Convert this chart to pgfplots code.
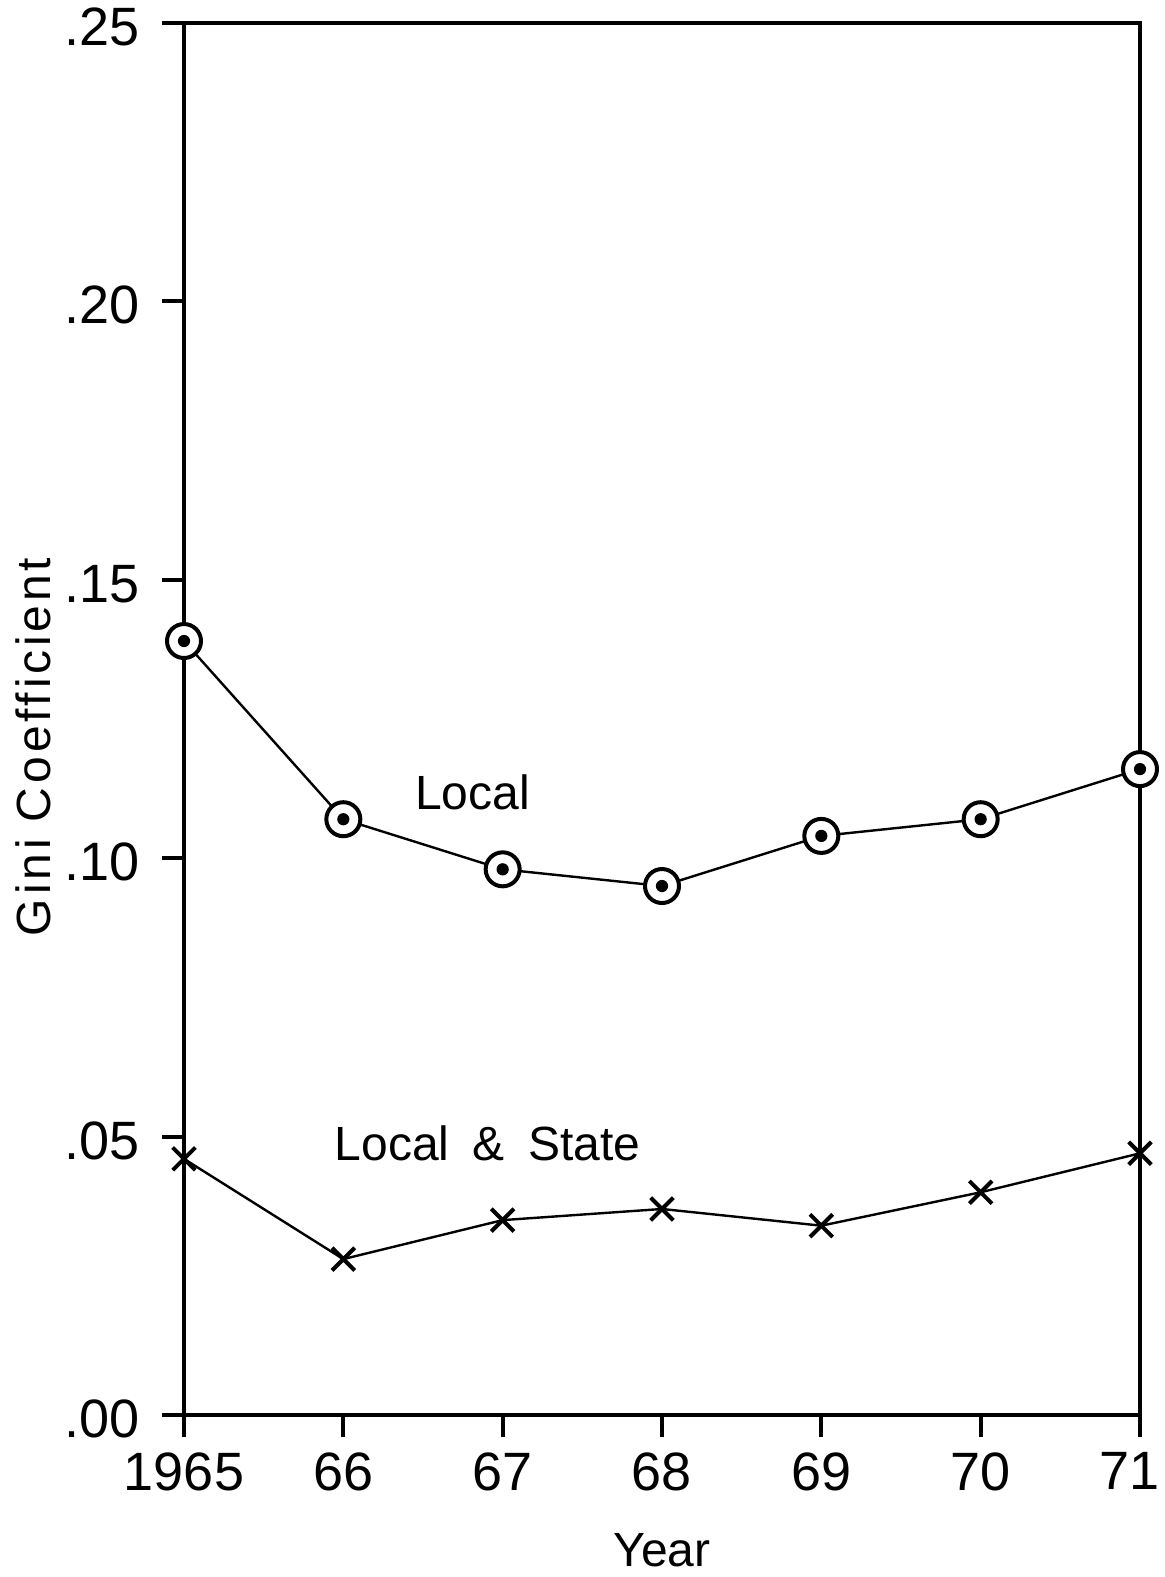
\documentclass[border=0pt]{standalone}
\usepackage{fontspec}
\setmainfont{Liberation Sans}
\usepackage{pgfplots}
\pgfplotsset{compat=1.18}
\pgfdeclareplotmark{odot}{%
  \pgfpathcircle{\pgfpointorigin}{\pgfplotmarksize}%
  \pgfsetfillcolor{white}\pgfusepathqfillstroke
  \pgfpathcircle{\pgfpointorigin}{0.36\pgfplotmarksize}%
  \pgfsetfillcolor{black}\pgfusepathqfill
}
\begin{document}
\begin{tikzpicture}
\useasboundingbox (-92pt,-81pt) rectangle (490pt,707.5pt);
\begin{axis}[
  scale only axis,
  width=478pt, height=696pt,
  at={(0,0)}, anchor=south west,
  xmin=1965, xmax=1971, ymin=0, ymax=0.25,
  xtick={1965,1966,1967,1968,1969,1970,1971},
  xticklabels={1965,66,67,68,69,70,{\kern-10pt 71}},
  ytick={0,0.05,0.10,0.15,0.20,0.25},
  yticklabels={.00,.05,.10,.15,.20,.25},
  xtick pos=bottom, ytick pos=left,
  tick align=outside,
  major tick length=11pt,
  every tick/.style={black, line width=2pt},
  axis line style={line width=2pt},
  ticklabel style={font=\fontsize{27}{27}\selectfont, inner sep=0pt},
  yticklabel style={anchor=east, xshift=-11pt, yshift=-2pt},
  xticklabel style={anchor=north, yshift=-7.5pt},
  xlabel={Year}, ylabel={\addfontfeatures{LetterSpace=8}Gini Coefficient},
  label style={font=\fontsize{24}{24}\selectfont},
  xlabel style={at={(axis description cs:0.5,-0.0973)}, anchor=center},
  ylabel style={at={(axis description cs:-0.158,0.48)}, anchor=center, rotate=0},
  clip=false,
]
\addplot[black, line width=1.2pt, mark=odot, mark size=8.5pt, mark options={line width=2pt}]
  coordinates {(1965,0.139) (1966,0.107) (1967,0.098) (1968,0.095) (1969,0.104) (1970,0.107) (1971,0.116)};
\addplot[black, line width=1.2pt, mark=x, mark size=8pt, mark options={line width=2pt}]
  coordinates {(1965,0.046) (1966,0.028) (1967,0.035) (1968,0.037) (1969,0.034) (1970,0.040) (1971,0.047)};
\node[font=\fontsize{24}{24}\selectfont] at (axis cs:1966.81,0.1118) {Local};
\node[font=\fontsize{24}{24}\selectfont] at (axis cs:1966.905,0.0488) {Local\hspace{5pt} \&\hspace{5pt} State};
\end{axis}
\end{tikzpicture}
\end{document}
